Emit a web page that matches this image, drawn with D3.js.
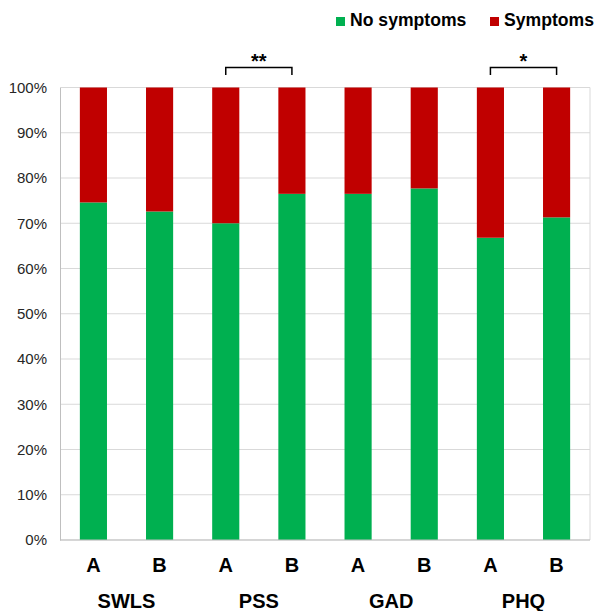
<!DOCTYPE html>
<html>
<head>
<meta charset="utf-8">
<script src="https://cdn.jsdelivr.net/npm/d3@7"></script>
<style>
  body { margin: 0; background: #fff; }
  svg { display: block; font-family: Arial, "Liberation Sans", sans-serif; }
</style>
</head>
<body>
<div class="chart"></div>
<script>
const scales = ['SWLS', 'PSS', 'GAD', 'PHQ'];
const groups = ['A', 'B'];
const noSymptoms = [74.6, 72.6, 70.0, 76.5, 76.5, 77.7, 66.8, 71.3];
const symptoms = [25.4, 27.4, 30.0, 23.5, 23.5, 22.3, 33.2, 28.7];
const yTicks = [0, 10, 20, 30, 40, 50, 60, 70, 80, 90, 100];
const significance = [
  { scale: 'PSS', label: '**' },
  { scale: 'PHQ', label: '*' },
];
const legendLabels = ['No symptoms', 'Symptoms'];

const colors = { no: '#00b050', yes: '#c00000' };
const size = { width: 595, height: 611 };
const plot = { left: 60, right: 590, top: 87.5, bottom: 540 };

// one row per bar: scale + group
const rows = scales.flatMap((s, i) => groups.map((g, j) => {
  const k = i * groups.length + j;
  return { key: `${s}-${g}`, scale: s, group: g, no: noSymptoms[k], yes: symptoms[k] };
}));

const svg = d3.select('.chart').append('svg')
  .attr('width', size.width)
  .attr('height', size.height);

const x = d3.scaleBand()
  .domain(rows.map(d => d.key))
  .range([plot.left, plot.right])
  .paddingInner(0.59)
  .paddingOuter(0.3);

const y = d3.scaleLinear().domain([0, 100]).range([plot.bottom, plot.top]);

// gridlines
svg.append('g')
  .selectAll('line')
  .data(yTicks)
  .enter()
  .append('line')
  .attr('x1', plot.left)
  .attr('x2', plot.right)
  .attr('y1', d => y(d))
  .attr('y2', d => y(d))
  .attr('stroke', '#d9d9d9')
  .attr('stroke-width', 1);

// plot frame sides
svg.append('line')
  .attr('x1', plot.right).attr('x2', plot.right)
  .attr('y1', plot.top).attr('y2', plot.bottom)
  .attr('stroke', '#d9d9d9');

const stack = d3.stack().keys(['no', 'yes'])(rows);

svg.append('g')
  .selectAll('g')
  .data(stack)
  .enter()
  .append('g')
  .attr('fill', d => colors[d.key])
  .selectAll('rect')
  .data(d => d)
  .enter()
  .append('rect')
  .attr('x', d => x(d.data.key))
  .attr('width', x.bandwidth())
  .attr('y', d => y(d[1]))
  .attr('height', d => y(d[0]) - y(d[1]));

// y axis
const yAxis = svg.append('g')
  .attr('transform', `translate(${plot.left},0)`)
  .call(d3.axisLeft(y).tickValues(yTicks).tickSize(0).tickPadding(13).tickFormat(d => `${d}%`));
yAxis.select('.domain').attr('stroke', '#bfbfbf');
yAxis.selectAll('text')
  .attr('font-size', '15px')
  .attr('fill', '#262626')
  .attr('font-family', 'Arial, "Liberation Sans", sans-serif');

svg.append('line')
  .attr('x1', plot.left).attr('x2', plot.right)
  .attr('y1', plot.bottom).attr('y2', plot.bottom)
  .attr('stroke', '#bfbfbf');

// group letters
svg.append('g')
  .selectAll('text')
  .data(rows)
  .enter()
  .append('text')
  .attr('x', d => x(d.key) + x.bandwidth() / 2)
  .attr('y', 572)
  .attr('text-anchor', 'middle')
  .attr('font-size', '20px')
  .attr('font-weight', 'bold')
  .attr('fill', '#000')
  .text(d => d.group);

// scale names centered under each pair
const pairCenter = s => {
  const a = x(`${s}-${groups[0]}`) + x.bandwidth() / 2;
  const b = x(`${s}-${groups[groups.length - 1]}`) + x.bandwidth() / 2;
  return { a, b, mid: (a + b) / 2 };
};

svg.append('g')
  .selectAll('text')
  .data(scales)
  .enter()
  .append('text')
  .attr('x', d => pairCenter(d).mid)
  .attr('y', 608)
  .attr('text-anchor', 'middle')
  .attr('font-size', '20px')
  .attr('font-weight', 'bold')
  .attr('fill', '#000')
  .text(d => d);

// significance brackets
const brackets = svg.append('g')
  .selectAll('g')
  .data(significance)
  .enter()
  .append('g');

brackets.append('path')
  .attr('d', d => {
    const c = pairCenter(d.scale);
    return d3.line()([[c.a, 75], [c.a, 67.5], [c.b, 67.5], [c.b, 75]]);
  })
  .attr('fill', 'none')
  .attr('stroke', '#000')
  .attr('stroke-width', 1.5);

brackets.append('text')
  .attr('x', d => pairCenter(d.scale).mid)
  .attr('y', 68)
  .attr('text-anchor', 'middle')
  .attr('font-size', '20px')
  .attr('font-weight', 'bold')
  .attr('fill', '#000')
  .text(d => d.label);

// legend
const legendX = [336, 490];
const legend = svg.append('g')
  .selectAll('g')
  .data(legendLabels)
  .enter()
  .append('g')
  .attr('transform', (_d, i) => `translate(${legendX[i]},17)`);

legend.append('rect')
  .attr('width', 9)
  .attr('height', 9)
  .attr('fill', (_d, i) => i === 0 ? colors.no : colors.yes);

legend.append('text')
  .attr('x', 14)
  .attr('y', 9)
  .attr('font-size', '17.6px')
  .attr('font-weight', 'bold')
  .attr('fill', '#000')
  .text(d => d);
</script>
</body>
</html>
